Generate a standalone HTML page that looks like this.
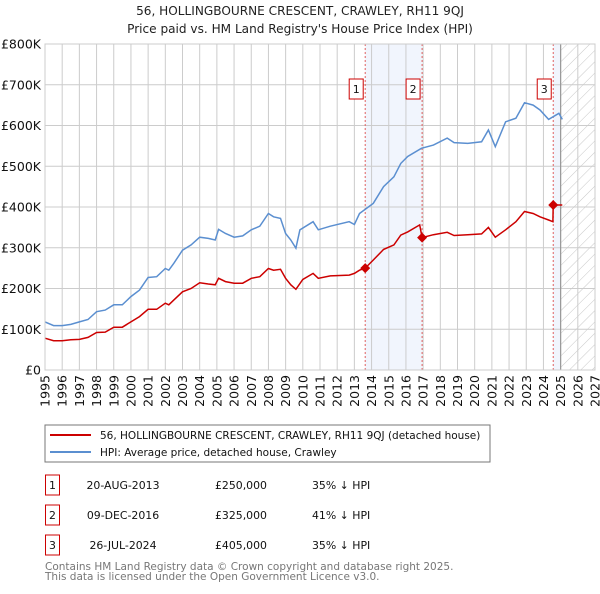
<!DOCTYPE html>
<html><head><meta charset="utf-8"><style>
body{margin:0;background:#fff;font-family:"DejaVu Sans","Liberation Sans",sans-serif;}
svg text{font-family:"DejaVu Sans","Liberation Sans",sans-serif;}
</style></head><body>
<svg id="c" width="600" height="590" xmlns="http://www.w3.org/2000/svg">
<defs><pattern id="hatch" width="8" height="8" patternUnits="userSpaceOnUse" patternTransform="rotate(45)"><line x1="0" y1="0" x2="0" y2="8" stroke="#c8c8c8" stroke-width="1"/></pattern></defs>
<text x="300" y="15" text-anchor="middle" font-size="12.1" fill="#222">56, HOLLINGBOURNE CRESCENT, CRAWLEY, RH11 9QJ</text>
<text x="300" y="33" text-anchor="middle" font-size="12.1" fill="#222">Price paid vs. HM Land Registry's House Price Index (HPI)</text>
<g id="plot"></g>
<g>
<rect x="45" y="425" width="445" height="37" fill="#fff" stroke="#777"/>
<line x1="50" y1="435" x2="91" y2="435" stroke="#cc0000" stroke-width="2"/>
<text x="100" y="439" font-size="10.5" fill="#111">56, HOLLINGBOURNE CRESCENT, CRAWLEY, RH11 9QJ (detached house)</text>
<line x1="50" y1="452" x2="91" y2="452" stroke="#5b8fd0" stroke-width="2"/>
<text x="100" y="456" font-size="10.5" fill="#111">HPI: Average price, detached house, Crawley</text>
</g>
<g id="table" font-size="10.9" fill="#111"></g>
<text x="45" y="570" font-size="10.5" fill="#777">Contains HM Land Registry data © Crown copyright and database right 2025.</text>
<text x="45" y="580" font-size="10.5" fill="#777">This data is licensed under the Open Government Licence v3.0.</text>
</svg>
<script>
const hpiYears=[1995,1995.5,1996,1996.5,1997,1997.5,1998,1998.5,1999,1999.5,2000,2000.5,2001,2001.5,2002,2002.2,2002.5,2003,2003.5,2004,2004.5,2004.9,2005.1,2005.5,2006,2006.5,2007,2007.5,2008,2008.3,2008.7,2009,2009.3,2009.6,2009.83,2010.6,2010.9,2011.6,2012.7,2013,2013.3,2014.1,2014.7,2015.3,2015.7,2016.1,2016.9,2017.6,2018.4,2018.8,2019.6,2020.4,2020.8,2021.2,2021.8,2022.4,2022.9,2023.4,2023.8,2024.3,2024.9,2025.1];
const hpiValues=[118,109,109,112,118,124,143,147,160,160,180,196,227,229,249,245,262,294,307,326,323,319,345,335,326,329,344,353,384,376,372,335,319,299,344,364,344,353,364,357,384,409,450,474,507,524,544,552,569,558,556,560,589,548,609,618,656,650,638,615,630,615];
const ppYears=[1995,1995.5,1996,1996.5,1997,1997.5,1998,1998.5,1999,1999.5,2000,2000.5,2001,2001.5,2002,2002.2,2002.5,2003,2003.5,2004,2004.5,2004.9,2005.1,2005.5,2006,2006.5,2007,2007.5,2008,2008.3,2008.7,2009,2009.3,2009.6,2010,2010.6,2010.9,2011.6,2012.7,2013,2013.3,2013.63,2014.1,2014.7,2015.3,2015.7,2016.1,2016.8,2016.94,2017.6,2018.4,2018.8,2019.6,2020.4,2020.8,2021.2,2021.8,2022.4,2022.9,2023.4,2023.8,2024.3,2024.55,2024.57,2024.8,2025.1];
const ppValues=[78,72,72,74,75,80,92,93,105,105,118,131,149,149,164,160,172,192,200,214,211,209,225,217,213,213,225,229,249,245,247,225,209,198,222,237,225,231,233,237,245,250,270,296,307,331,339,356,325,332,338,330,332,334,350,326,344,364,389,384,376,368,364,405,405,405];
const saleYears=[2013.63,2016.94,2024.57];
const saleValues=[250,325,405];
const saleLabels=["1","2","3"];
const saleDates=["20-AUG-2013","09-DEC-2016","26-JUL-2024"];
const salePrices=["£250,000","£325,000","£405,000"];
const salePct=["35% ↓ HPI","41% ↓ HPI","35% ↓ HPI"];
const yTicks=[0,100,200,300,400,500,600,700,800];
const yTickLabels=["£0","£100K","£200K","£300K","£400K","£500K","£600K","£700K","£800K"];
const xTicks=[1995,1996,1997,1998,1999,2000,2001,2002,2003,2004,2005,2006,2007,2008,2009,2010,2011,2012,2013,2014,2015,2016,2017,2018,2019,2020,2021,2022,2023,2024,2025,2026,2027];

const L=45,R=595,T=44,B=370;
const X=y=>L+(y-1995)*(R-L)/32;
const Y=v=>B-v*(B-T)/800;
const NS="http://www.w3.org/2000/svg";
const g=document.getElementById('plot');
function el(tag,attrs,parent){const e=document.createElementNS(NS,tag);for(const k in attrs)e.setAttribute(k,attrs[k]);(parent||g).appendChild(e);return e;}

let b1=el('rect',{x:X(saleYears[0]),y:T,width:X(saleYears[1])-X(saleYears[0]),height:B-T,fill:'#eef3fc',opacity:0.8});


let b2=el('rect',{x:X(saleYears[2]),y:T,width:X(2025)-X(saleYears[2]),height:B-T,fill:'#eef3fc',opacity:0.8});


let hz=el('rect',{x:X(2025),y:T,width:R-X(2025),height:B-T,fill:'url(#hatch)'});



yTicks.forEach((v,i)=>{
 let ln=el('line',{x1:L,x2:R,y1:Y(v),y2:Y(v),stroke:'#cccccc','stroke-width':1});
 
 
 let t=el('text',{x:L-4,y:Y(v)+4.5,'text-anchor':'end','font-size':12.5,fill:'#111'});
 t.textContent=yTickLabels[i];
 
 
});
xTicks.forEach(yr=>{
 let ln=el('line',{x1:X(yr),x2:X(yr),y1:T,y2:B,stroke:'#cccccc','stroke-width':1});
 
 
 let t=el('text',{x:0,y:0,'text-anchor':'end','font-size':12.5,fill:'#111',transform:`translate(${X(yr)+4.5},${B+5}) rotate(-90)`});
 t.textContent=String(yr);
 
 
});
let vl=el('line',{x1:X(2025),x2:X(2025),y1:T,y2:B,stroke:'#999','stroke-width':1.2});



saleYears.forEach(yr=>{
 let ln=el('line',{x1:X(yr),x2:X(yr),y1:T,y2:B,stroke:'#e06060','stroke-width':1,'stroke-dasharray':'2,2'});
 
 
});

function path(xs,vs){return xs.map((x,i)=>(i?'L':'M')+X(x).toFixed(1)+','+Y(vs[i]).toFixed(1)).join('');}
let hp=el('path',{d:path(hpiYears,hpiValues),fill:'none',stroke:'#5b8fd0','stroke-width':1.5});


let pp=el('path',{d:path(ppYears,ppValues),fill:'none',stroke:'#cc0000','stroke-width':1.5});



saleYears.forEach((yr,i)=>{
 let cx=X(yr),cy=Y(saleValues[i]);
 let d=el('path',{d:`M${cx},${cy-5}L${cx+5},${cy}L${cx},${cy+5}L${cx-5},${cy}Z`,fill:'#cc0000'});
 
 
 let bx=el('rect',{x:cx-16,y:79,width:14,height:20,fill:'#fff',stroke:'#cc0000','stroke-width':1});
 
 
 let t=el('text',{x:cx-9,y:93,'text-anchor':'middle','font-size':11,fill:'#111'});
 t.textContent=saleLabels[i];
 
 
});
let fr=el('rect',{x:L,y:T,width:R-L,height:B-T,fill:'none',stroke:'#cccccc'});



const tb=document.getElementById('table');
saleLabels.forEach((lab,i)=>{
 const y0=475+i*30;
 let bx=el('rect',{x:45.5,y:y0,width:14,height:20,fill:'#fff',stroke:'#cc0000'},tb);
 
 
 let t=el('text',{x:52.5,y:y0+14,'text-anchor':'middle'},tb);t.textContent=lab;
 
 
 let d=el('text',{x:123,y:y0+14,'text-anchor':'middle'},tb);d.textContent=saleDates[i];
 
 
 let p=el('text',{x:215,y:y0+14},tb);p.textContent=salePrices[i];
 
 
 let c=el('text',{x:312,y:y0+14},tb);c.textContent=salePct[i];
 
 
});
</script>
</body></html>
